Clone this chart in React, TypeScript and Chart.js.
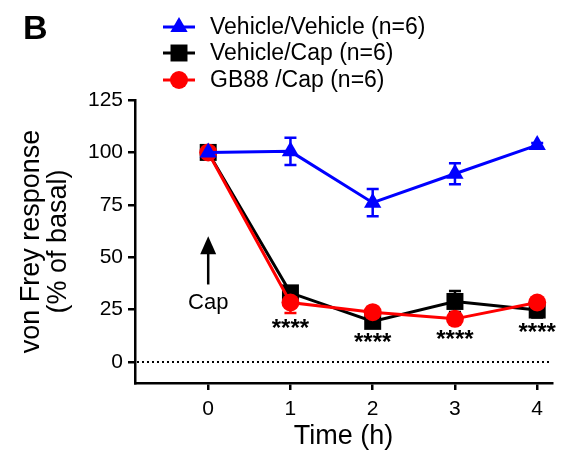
import { useEffect, useRef } from 'react';
import { Chart, registerables } from 'chart.js';
import { drawPoint } from 'chart.js/helpers';

Chart.register(...registerables);

const FONT = "'Liberation Sans', Arial, Helvetica, sans-serif";

// ---- data ----
const timePoints = [0, 1, 2, 3, 4];
const xTickValues = [0, 1, 2, 3, 4];
const yTickValues = [0, 25, 50, 75, 100, 125];

const vehVehLabel = 'Vehicle/Vehicle (n=6)';
const vehVehMean = [100, 100.5, 76, 89.8, 103.5];
const vehVehErr = [0, 6.5, 6.5, 5, 1];

const vehCapLabel = 'Vehicle/Cap (n=6)';
const vehCapMean = [100, 33, 19.4, 28.9, 24.8];
const vehCapErr = [0, 1.5, 3, 5, 3.5];

const gbCapLabel = 'GB88 /Cap (n=6)';
const gbCapMean = [100, 28.4, 23.8, 20.6, 28.4];
const gbCapErr = [0, 5, 1.5, 2.5, 1.5];

const sigTimes = [1, 2, 3, 4];
const sigText = '****';

const capTime = 0;
const capArrowFrom = 37;
const capArrowTo = 60;
const capTextValue = 28;
const capText = 'Cap';
const panelLetter = 'B';

type Series = { label: string; mean: number[]; err: number[]; color: string; style: string; radius: number; order: number };

const seriesList: Series[] = [
  { label: vehVehLabel, mean: vehVehMean, err: vehVehErr, color: '#0000ff', style: 'triangle', radius: 10, order: 0 },
  { label: vehCapLabel, mean: vehCapMean, err: vehCapErr, color: '#000000', style: 'rect', radius: 12, order: 2 },
  { label: gbCapLabel, mean: gbCapMean, err: gbCapErr, color: '#ff0000', style: 'circle', radius: 9, order: 1 },
];

const overlayPlugin = {
  id: 'overlay',
  beforeDatasetsDraw(chart: any) {
    const { ctx, chartArea, scales } = chart;
    const x = scales.x;
    const y = scales.y;
    ctx.save();
    // dotted zero line
    ctx.strokeStyle = '#000';
    ctx.lineWidth = 2;
    ctx.setLineDash([2, 3]);
    ctx.beginPath();
    ctx.moveTo(chartArea.left + 2, y.getPixelForValue(0));
    ctx.lineTo(chartArea.right, y.getPixelForValue(0));
    ctx.stroke();
    ctx.setLineDash([]);
    // error bars
    const drawOrder = [1, 2, 0];
    drawOrder.forEach((si) => {
      const s = seriesList[si];
      ctx.strokeStyle = s.color;
      ctx.lineWidth = 2.5;
      s.mean.forEach((m, i) => {
        const e = s.err[i];
        if (!e) return;
        const px = x.getPixelForValue(timePoints[i]);
        const top = y.getPixelForValue(m + e);
        const bot = y.getPixelForValue(m - e);
        ctx.beginPath();
        ctx.moveTo(px, top);
        ctx.lineTo(px, bot);
        ctx.moveTo(px - 6, top);
        ctx.lineTo(px + 6, top);
        ctx.moveTo(px - 6, bot);
        ctx.lineTo(px + 6, bot);
        ctx.stroke();
      });
    });
    ctx.restore();
  },
  afterDraw(chart: any) {
    const { ctx, scales } = chart;
    const x = scales.x;
    const y = scales.y;
    ctx.save();
    // panel letter
    ctx.fillStyle = '#000';
    ctx.font = `bold 34px ${FONT}`;
    ctx.textAlign = 'left';
    ctx.textBaseline = 'alphabetic';
    ctx.fillText(panelLetter, 23, 39);

    // legend
    const rowsY = [27, 53, 80];
    seriesList.forEach((s, i) => {
      const ry = rowsY[i];
      ctx.strokeStyle = s.color;
      ctx.lineWidth = 3;
      ctx.beginPath();
      ctx.moveTo(163, ry);
      ctx.lineTo(195, ry);
      ctx.stroke();
      ctx.fillStyle = s.color;
      drawPoint(ctx, { pointStyle: s.style, radius: s.radius, borderWidth: 0, rotation: 0 } as any, 179, ry);
      ctx.fillStyle = '#000';
      ctx.font = `23px ${FONT}`;
      ctx.textAlign = 'left';
      ctx.textBaseline = 'middle';
      ctx.fillText(s.label, 210, ry + 1);
    });

    // arrow and Cap label
    const ax = x.getPixelForValue(capTime);
    const aFrom = y.getPixelForValue(capArrowFrom);
    const aTo = y.getPixelForValue(capArrowTo);
    ctx.strokeStyle = '#000';
    ctx.fillStyle = '#000';
    ctx.lineWidth = 2.5;
    ctx.beginPath();
    ctx.moveTo(ax, aFrom);
    ctx.lineTo(ax, aTo + 10);
    ctx.stroke();
    ctx.beginPath();
    ctx.moveTo(ax, aTo);
    ctx.lineTo(ax - 8, aTo + 18);
    ctx.lineTo(ax + 8, aTo + 18);
    ctx.closePath();
    ctx.fill();
    ctx.font = `22px ${FONT}`;
    ctx.textAlign = 'center';
    ctx.textBaseline = 'middle';
    ctx.fillText(capText, ax, y.getPixelForValue(capTextValue));

    // significance stars below the lowest error bar
    ctx.font = `bold 24px ${FONT}`;
    ctx.textBaseline = 'top';
    sigTimes.forEach((t) => {
      const i = timePoints.indexOf(t);
      let low = Infinity;
      seriesList.forEach((s) => {
        if (s.order === 0) return;
        low = Math.min(low, s.mean[i] - s.err[i]);
      });
      const px = x.getPixelForValue(t);
      ctx.fillText(sigText, px, y.getPixelForValue(low) + 4);
    });
    ctx.restore();
  },
};

export default function App() {
  const canvasRef = useRef<HTMLCanvasElement | null>(null);
  useEffect(() => {
    if (!canvasRef.current) return;
    const chart = new Chart(canvasRef.current, {
      type: 'line',
      data: {
        datasets: seriesList.map((s) => ({
          label: s.label,
          data: timePoints.map((t, i) => ({ x: t, y: s.mean[i] })),
          borderColor: s.color,
          backgroundColor: s.color,
          borderWidth: 3,
          pointStyle: s.style as any,
          pointRadius: s.radius,
          pointBorderWidth: 0,
          pointBackgroundColor: s.color,
          order: s.order,
          tension: 0,
          clip: false as any,
        })),
      },
      options: {
        responsive: false,
        animation: false,
        layout: { padding: { left: 0, top: 100, right: 9, bottom: 0 } },
        plugins: { legend: { display: false }, tooltip: { enabled: false } },
        scales: {
          x: {
            type: 'linear',
            min: -0.89,
            max: 4.18,
            afterBuildTicks: (s: any) => {
              s.ticks = xTickValues.map((v) => ({ value: v }));
            },
            afterFit: (s: any) => {
              s.height = 78;
            },
            ticks: { color: '#000', font: { family: FONT, size: 21 }, padding: 7, autoSkip: false, maxRotation: 0 },
            grid: { display: true, drawOnChartArea: false, drawTicks: true, tickLength: 7, color: '#000', lineWidth: 2.5 },
            border: { display: true, color: '#000', width: 2.5 },
            title: { display: true, text: 'Time (h)', color: '#000', font: { family: FONT, size: 27, lineHeight: 1 }, padding: { top: 0, bottom: 11 } },
          },
          y: {
            type: 'linear',
            min: -10,
            max: 125,
            afterBuildTicks: (s: any) => {
              s.ticks = yTickValues.map((v) => ({ value: v }));
            },
            afterFit: (s: any) => {
              s.width = 135;
            },
            ticks: { color: '#000', font: { family: FONT, size: 21 }, padding: 5 },
            grid: { display: true, drawOnChartArea: false, drawTicks: true, tickLength: 7, color: '#000', lineWidth: 2.5 },
            border: { display: true, color: '#000', width: 2.5 },
            title: { display: true, text: ['von Frey response', '(% of basal)'], color: '#000', font: { family: FONT, size: 27, lineHeight: 1 }, padding: { top: 18, bottom: 0 } },
          },
        },
      },
      plugins: [overlayPlugin],
    });
    return () => chart.destroy();
  }, []);
  return (
    <div style={{ position: 'fixed', left: 0, top: 0, width: 564, height: 461, background: '#fff' }}>
      <canvas ref={canvasRef} width={564} height={461} />
    </div>
  );
}
